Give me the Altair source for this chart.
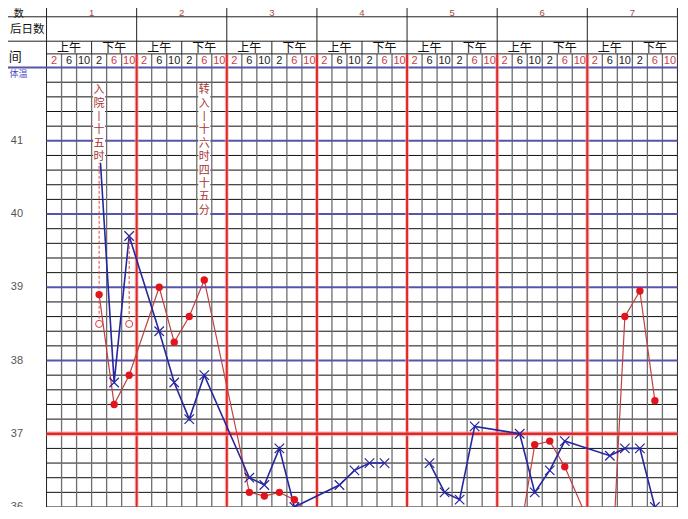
import altair as alt
import pandas as pd

# ---------------- data ----------------
day_labels = ["1", "2", "3", "4", "5", "6", "7"]
half_labels = ["上午", "下午"]
hour_labels = ["2", "6", "10", "2", "6", "10"]
hour_is_red = [True, False, False, False, True, True]
row_labels = ["数", "后日数", "间"]
scale_labels = [41, 40, 39, 38, 37, 36]

# body temperature (blue x): day index, time-slot index, value, line segment
temp_day = [0, 0, 0, 1, 1, 1, 1, 2, 2, 2, 2, 3, 3, 3, 3,
            4, 4, 4, 4, 5, 5, 5, 5, 6, 6, 6, 6]
temp_slot = [3, 4, 5, 1, 2, 3, 4, 1, 2, 3, 4, 1, 2, 3, 4,
             1, 2, 3, 4, 1, 2, 3, 4, 1, 2, 3, 4]
temp_val = [41.0, 37.7, 39.7, 38.4, 37.7, 37.2, 37.8, 36.4, 36.3, 36.8, 36.0,
            36.3, 36.5, 36.6, 36.6,
            36.6, 36.2, 36.1, 37.1, 37.0, 36.2, 36.5, 36.9, 36.7, 36.8, 36.8, 36.0]
temp_seg = [0] * 15 + [1] * 12

# pulse (red dots)
pulse_day = [0, 0, 0, 1, 1, 1, 1, 2, 2, 2, 2, 2, 5, 5, 5, 5, 6, 6, 6, 6, 6]
pulse_slot = [3, 4, 5, 1, 2, 3, 4, 1, 2, 3, 4, 5, 1, 2, 3, 4, 0, 1, 2, 3, 4]
pulse_val = [38.9, 37.4, 37.8, 39.0, 38.25, 38.6, 39.1, 36.2, 36.15, 36.2, 36.1, 35.9,
             35.6, 36.85, 36.9, 36.55, 35.6, 34.6, 38.6, 38.95, 37.45]

# physical cooling (open circle + dashed line from the measured temperature)
cool_day = [0, 0]
cool_slot = [3, 5]
cool_val = [38.5, 38.5]
cool_from = [41.0, 39.7]

# vertical notes
note_text = ["入院丨十五时", "转入丨十六时四十五分"]
note_day = [0, 1]
note_slot = [3, 4]

# ---------------- layout ----------------
PX0, CW = 47.0, 15.2      # plot left edge (px), width of a time slot (px)
PY42, DEG = 69.0, 75.0    # y of 42 degrees (px), px per degree
OFF = 8
W, H = 672, 499           # keep the whole page inside the 688x519 window


def cx(px):
    return (px - PX0) / CW


def ty(py):
    return 42 - (py - PY42) / DEG


xs = alt.Scale(domain=[cx(OFF), cx(688)], nice=False, zero=False)
ys = alt.Scale(domain=[ty(519), ty(OFF)], nice=False, zero=False)
XQ = lambda f: alt.X(f, type="quantitative", scale=xs, axis=None)
YQ = lambda f: alt.Y(f, type="quantitative", scale=ys, axis=None)
NDAY, NSLOT = len(day_labels), len(hour_labels)
NCOL = NDAY * NSLOT


def rules(rows, color, width, dash=None, opacity=1.0):
    kw = dict(color=color, strokeWidth=width, opacity=opacity)
    if dash:
        kw["strokeDash"] = dash
    df = pd.DataFrame(rows, columns=["x", "x2", "y", "y2"])
    return alt.Chart(df).mark_rule(**kw).encode(
        x=XQ("x"), x2="x2:Q", y=YQ("y"), y2="y2:Q")


def texts(rows, **kw):
    df = pd.DataFrame(rows, columns=["x", "y", "t"])
    return alt.Chart(df).mark_text(**kw).encode(x=XQ("x"), y=YQ("y"), text="t:N")


layers = []
# horizontal grid in plot
minor_h, blue_h, red_h = [], [], []
for k in range(31):
    t = round(36 + 0.2 * k, 1)
    if k % 5 != 0 or k == 0:
        minor_h.append([0, NCOL, t, t])
    elif t == 37:
        red_h.append([0, NCOL, t, t])
    elif t == 42:
        blue_h.append([cx(0), NCOL, t, t])
    else:
        blue_h.append([0, NCOL, t, t])
layers.append(rules(minor_h, "#111111", 1))

# vertical lines
gray_v, red_v, black_v = [], [], []
for c in range(NCOL + 1):
    if c == 0 or c == NCOL:
        black_v.append([c, c, 36, ty(0)])
    elif c % NSLOT == 0:
        red_v.append([c, c, 36, ty(55)])
        black_v.append([c, c, ty(55), ty(0)])
    else:
        gray_v.append([c, c, 36, ty(55)])
        if c % NSLOT == 3:
            black_v.append([c, c, ty(55), ty(42)])
layers.append(rules(gray_v, "#6e6e6e", 1.3))
layers.append(rules(black_v, "#222222", 1))
# header horizontals
layers.append(rules([[cx(0), NCOL, ty(17), ty(17)],
                     [cx(0), NCOL, ty(42), ty(42)],
                     [0, NCOL, ty(55), ty(55)]], "#222222", 1))
layers.append(rules(blue_h, "#5656a8", 2))
layers.append(rules(red_v, "#f4a0a0", 4, opacity=0.6))
layers.append(rules(red_v, "#e02828", 2))
layers.append(rules(red_h, "#f4a0a0", 5, opacity=0.6))
layers.append(rules(red_h, "#e02828", 2.5))

# header texts
layers.append(texts([[d * NSLOT + 3, ty(13.5), day_labels[d]] for d in range(NDAY)],
                    font="Liberation Sans", fontSize=9.5, color="#a04a4a"))
layers.append(texts([[d * NSLOT + 1.5 + 3 * h, ty(48.5), half_labels[h]]
                     for d in range(NDAY) for h in range(2)],
                    font="Noto Sans CJK SC", fontSize=12, color="#111111"))
hr_black = [[d * NSLOT + s + 0.5, ty(62.5), hour_labels[s]]
            for d in range(NDAY) for s in range(NSLOT) if not hour_is_red[s]]
hr_red = [[d * NSLOT + s + 0.5, ty(62.5), hour_labels[s]]
          for d in range(NDAY) for s in range(NSLOT) if hour_is_red[s]]
layers.append(texts(hr_black, font="Liberation Sans", fontSize=11, color="#222222"))
layers.append(texts(hr_red, font="Liberation Sans", fontSize=11, color="#c8404a"))
layers.append(texts([[cx(24), ty(14), row_labels[0]]],
                    font="Noto Sans CJK SC", fontSize=10, color="#111111", align="right"))
layers.append(texts([[cx(45), ty(31), row_labels[1]]],
                    font="Noto Sans CJK SC", fontSize=11.5, color="#111111", align="right"))
layers.append(texts([[cx(22), ty(58), row_labels[2]]],
                    font="Noto Sans CJK SC", fontSize=13, color="#111111", align="right"))
layers.append(texts([[cx(18.5), ty(75.5), "体温"]],
                    font="Noto Sans CJK SC", fontSize=9, color="#4848c8"))
layers.append(texts([[cx(17), v, str(v)] for v in scale_labels],
                    font="Liberation Sans", fontSize=11, color="#555555"))

# series
tdf = pd.DataFrame({"x": [d * NSLOT + s + 0.5 for d, s in zip(temp_day, temp_slot)],
                    "y": temp_val, "seg": temp_seg})
pdf = pd.DataFrame({"x": [d * NSLOT + s + 0.5 for d, s in zip(pulse_day, pulse_slot)],
                    "y": pulse_val})
cdf = pd.DataFrame({"x": [d * NSLOT + s + 0.5 for d, s in zip(cool_day, cool_slot)],
                    "y": cool_val, "y0": cool_from})

layers.append(alt.Chart(pdf).mark_line(color="#c04040", strokeWidth=1.2, clip=True)
              .encode(x=XQ("x"), y=YQ("y")))
layers.append(alt.Chart(tdf).mark_line(color="#2626a0", strokeWidth=1.6, clip=True)
              .encode(x=XQ("x"), y=YQ("y"), detail="seg:N"))
layers.append(alt.Chart(cdf).mark_rule(color="#e04a3a", strokeWidth=1, strokeDash=[3, 2])
              .encode(x=XQ("x"), y=YQ("y0"), y2="y:Q"))
layers.append(alt.Chart(pdf).mark_point(shape="circle", filled=True, color="#e3151c",
                                        size=55, opacity=1, clip=True)
              .encode(x=XQ("x"), y=YQ("y")))
layers.append(alt.Chart(tdf).mark_point(shape="M-1,-1L1,1M-1,1L1,-1", filled=False,
                                        color="#2626a0", size=90, strokeWidth=1.2,
                                        opacity=1, clip=True)
              .encode(x=XQ("x"), y=YQ("y")))
layers.append(alt.Chart(cdf).mark_point(shape="circle", fill="white", stroke="#d83a3a",
                                        strokeWidth=1, size=50, opacity=1, fillOpacity=1)
              .encode(x=XQ("x"), y=YQ("y")))

# notes (white box + vertical text)
LH = 13.4
nrect = pd.DataFrame({
    "x": [d * NSLOT + s + 0.1 for d, s in zip(note_day, note_slot)],
    "x2": [d * NSLOT + s + 0.9 for d, s in zip(note_day, note_slot)],
    "y": [ty(85) for _ in note_text],
    "y2": [ty(86 + len(t) * LH) for t in note_text]})
layers.append(alt.Chart(nrect).mark_rect(color="white", opacity=1)
              .encode(x=XQ("x"), x2="x2:Q", y=YQ("y"), y2="y2:Q"))
ntext = pd.DataFrame({
    "x": [d * NSLOT + s + 0.5 for d, s in zip(note_day, note_slot)],
    "y": [ty(86) for _ in note_text],
    "t": ["\n".join(list(t)) for t in note_text]})
layers.append(alt.Chart(ntext).mark_text(font="Noto Sans CJK SC", fontSize=11,
                                         color="#a83434", baseline="top",
                                         lineBreak="\n", lineHeight=LH)
              .encode(x=XQ("x"), y=YQ("y"), text="t:N"))

chart = alt.layer(*layers).properties(
    width=W, height=H, padding=0,
    autosize=alt.AutoSizeParams(type="none"),
    background="white",
).configure_view(stroke=None)

chart.save("out.html", embed_options={"renderer": "svg", "actions": False})
